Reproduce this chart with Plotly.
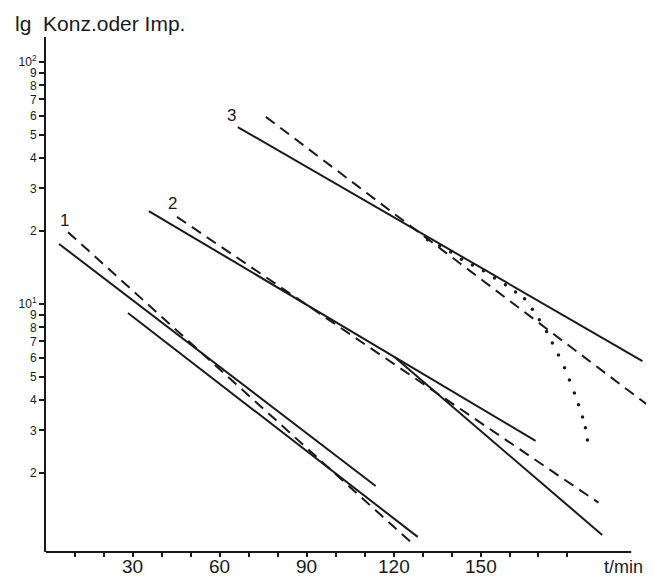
import math
import plotly.graph_objects as go

# ---- data (t in min, values on log scale) ----
c1_solid_a_t = [4.5, 113.8]
c1_solid_a_v = [17.7, 1.77]
c1_solid_b_t = [28.3, 128.3]
c1_solid_b_v = [9.18, 1.09]
c1_dash_t = [7.6, 126.6]
c1_dash_v = [19.8, 1.02]

c2_solid_t = [35.5, 169.0]
c2_solid_v = [24.2, 2.72]
c2_steep_t = [120.3, 192.0]
c2_steep_v = [6.04, 1.11]
c2_dash_t = [45.2, 190.7]
c2_dash_v = [22.9, 1.51]

c3_solid_t = [66.2, 205.9]
c3_solid_v = [53.8, 5.81]
c3_dash_t = [75.9, 207.6]
c3_dash_v = [59.3, 3.83]
c3_dot_t = [131.7, 135.9, 139.7, 143.4, 147.2, 151.0, 154.8, 158.6, 162.1, 165.2,
            167.9, 170.3, 172.8, 174.8, 176.9, 179.0, 180.7, 182.4, 183.8, 185.2,
            186.2, 186.9]
c3_dot_v = [18.4, 17.4, 16.4, 15.3, 14.5, 13.7, 12.8, 12.0, 11.2, 10.5,
            9.5, 8.6, 7.7, 6.9, 6.15, 5.45, 4.85, 4.29, 3.83, 3.41,
            3.08, 2.74]

curve_labels = ["1", "2", "3"]
label_t = [6.5, 43.8, 64.1]
label_v = [22.2, 26.1, 59.8]

x_tick_vals = [10, 20, 30, 40, 50, 60, 70, 80, 90, 100, 110, 120, 130, 140, 150, 160, 170, 180]
x_label_vals = [30, 60, 90, 120, 150]
x_label_text = ["30", "60", "90", "120", "150"]
y_tick_vals = [100, 90, 80, 70, 60, 50, 40, 30, 20, 10, 9, 8, 7, 6, 5, 4, 3, 2]
y_tick_text = ["10<sup>2</sup>", "9", "8", "7", "6", "5", "4", "3", "2",
               "10<sup>1</sup>", "9", "8", "7", "6", "5", "4", "3", "2"]

INK = "#1a1a1a"
FONT = "Liberation Sans"
DASH = "11px,7px"

fig = go.Figure()

def add_line(t, v, dash=None):
    ln = dict(color=INK, width=2)
    if dash:
        ln["dash"] = dash
    fig.add_trace(go.Scatter(x=t, y=v, mode="lines", line=ln,
                             showlegend=False, hoverinfo="skip"))

add_line(c1_solid_a_t, c1_solid_a_v)
add_line(c1_solid_b_t, c1_solid_b_v)
add_line(c1_dash_t, c1_dash_v, DASH)
add_line(c2_solid_t, c2_solid_v)
add_line(c2_steep_t, c2_steep_v)
add_line(c2_dash_t, c2_dash_v, DASH)
add_line(c3_solid_t, c3_solid_v)
add_line(c3_dash_t, c3_dash_v, DASH)

fig.add_trace(go.Scatter(
    x=c3_dot_t, y=c3_dot_v, mode="markers",
    marker=dict(color=INK, size=3.5), showlegend=False, hoverinfo="skip"))

for txt, t, v in zip(curve_labels, label_t, label_v):
    fig.add_annotation(x=t, y=math.log10(v), xref="x", yref="y", text=txt,
                       showarrow=False, font=dict(family=FONT, size=17, color=INK))

# x tick labels (placed as annotations so they sit low like the original)
for val, txt in zip(x_label_vals, x_label_text):
    fig.add_annotation(x=val, y=-0.0524, xref="x", yref="paper", text=txt,
                       showarrow=False, yanchor="bottom",
                       font=dict(family=FONT, size=19, color=INK))

fig.add_annotation(x=-0.0546, y=1.027, xref="paper", yref="paper",
                   text="lg  Konz.oder Imp.", showarrow=False, xanchor="left",
                   yanchor="middle", font=dict(family=FONT, size=21, color=INK))
fig.add_annotation(x=0.992, y=-0.0524, xref="paper", yref="paper",
                   text="t/min", showarrow=False, xanchor="right",
                   yanchor="bottom", font=dict(family=FONT, size=18, color=INK))

# x axis line (drawn shorter than plotting range, as in original)
fig.add_shape(type="line", xref="x", yref="paper", x0=0, x1=202, y0=0, y1=0,
              line=dict(color=INK, width=2))

fig.update_xaxes(range=[0, 208.5], showline=False, showgrid=False, zeroline=False,
                 automargin=False, tickmode="array", tickvals=x_tick_vals,
                 ticktext=[""] * len(x_tick_vals),
                 ticks="outside", ticklen=4, tickwidth=1.5, tickcolor=INK)
fig.update_yaxes(type="log", range=[-0.025, 2.103], showline=True, linecolor=INK,
                 linewidth=2, showgrid=False, zeroline=False, automargin=False,
                 tickmode="array", tickvals=y_tick_vals, ticktext=y_tick_text,
                 ticks="outside", ticklen=5, tickwidth=1.5, tickcolor=INK,
                 tickfont=dict(family=FONT, size=12, color=INK))

# the page adds an 8px body margin, so the figure is 8px smaller than the window
fig.update_layout(width=646, height=571, margin=dict(l=38, r=4, t=29, b=27),
                  plot_bgcolor="white", paper_bgcolor="white")

fig.write_html("out.html")
